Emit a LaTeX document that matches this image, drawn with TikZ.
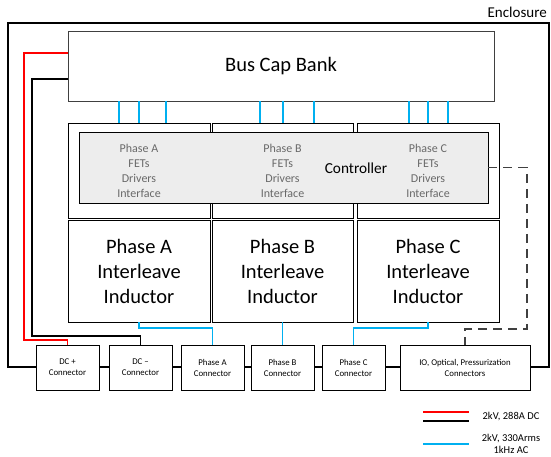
\documentclass[tikz,border=0pt]{standalone}
\usepackage{fontspec}
\setmainfont{Carlito}
\usetikzlibrary{positioning}

\definecolor{acblue}{RGB}{0,176,240}
\definecolor{txtgray}{RGB}{105,105,105}
\definecolor{fetfill}{RGB}{237,237,237}

\tikzset{
  box/.style={draw, line width=0.9pt, align=center, inner sep=0pt},
  bigtext/.style={font=\fontsize{20.5}{25}\selectfont},
  fettext/.style={align=center, text=txtgray, font=\fontsize{12}{15}\selectfont},
  conbox/.style={box, fill=white, minimum width=63pt, minimum height=45pt,
                 font=\fontsize{8.8}{11}\selectfont},
  dcline/.style={line width=1.8pt},
  acline/.style={acblue, line width=1.8pt},
}

\begin{document}
\begin{tikzpicture}[x=1pt,y=-1pt]
        \useasboundingbox (0,0) rectangle (551,457);
        % Enclosure
        \draw [line width=2.6pt] (8,23) rectangle (549,367);
        \node [above left, inner sep=2pt, font=\fontsize{15}{18}\selectfont] (encl) at (549,20) {Enclosure};
        % Bus caps
        \node [box, draw=black!75, minimum width=426pt, minimum height=70pt, bigtext] (buscap) at (281,66) {Bus Cap Bank};
        % Controller / FET boxes
        \node [box, minimum width=142pt, minimum height=95pt] (ctrlA) at (139,170.5) {};
        \node [box, minimum width=141pt, minimum height=95pt] (ctrlB) at (282.5,170.5) {};
        \node [box, minimum width=142pt, minimum height=95pt] (ctrlC) at (428,170.5) {};
        \node [box, fill=fetfill, minimum width=409pt, minimum height=71pt] (fets) at (283.5,167.5) {};
        \node [fettext] (fetA) at (139,170.5) {Phase A\\FETs\\Drivers\\Interface};
        \node [fettext] (fetB) at (282.5,170.5) {Phase B\\FETs\\Drivers\\Interface};
        \node [fettext] (fetC) at (428,170.5) {Phase C\\FETs\\Drivers\\Interface};
        \node [font=\fontsize{15.3}{18}\selectfont] (ctrl) at (356,168) {Controller};
        % Inductors
        \node [box, minimum width=142pt, minimum height=102pt, bigtext] (indA) at (139,271) {Phase A\\Interleave\\Inductor};
        \node [box, minimum width=141pt, minimum height=102pt, bigtext] (indB) at (282.5,271) {Phase B\\Interleave\\Inductor};
        \node [box, minimum width=142pt, minimum height=102pt, bigtext] (indC) at (428,271) {Phase C\\Interleave\\Inductor};
        % Connectors
        \node [conbox] (dcp) at (67.5,367.5) {DC +\\Connector};
        \node [conbox] (dcm) at (140.5,367.5) {DC --\\Connector};
        \node [conbox] (conA) at (212.5,367.5) {Phase A\\Connector};
        \node [conbox] (conB) at (282.5,367.5) {Phase B\\Connector};
        \node [conbox] (conC) at (353.5,367.5) {Phase C\\Connector};
        \node [conbox, minimum width=130pt] (io) at (465,367.5) {IO, Optical, Pressurization\\Connectors};
        % DC bus
        \coordinate (r1) at (24,53);
        \coordinate (r2) at (24,340);
        \coordinate (k1) at (32,79);
        \coordinate (k2) at (32,336);
        \draw [dcline, red] (buscap.west |- r1) -- (r1) -- (r2) -| (dcp.north);
        \draw [dcline] (buscap.west |- k1) -- (k1) -- (k2) -| (dcm.north);
        % AC links
        \foreach \x in {119,139,166,260,283,314,409,428,448}
                \draw [acline] (\x,0 |- buscap.south) -- (\x,0 |- ctrlA.north);
        \coordinate (a1) at (139,328);
        \coordinate (c1) at (428,328);
        \draw [acline] (indA.south) -- (a1) -| (conA.north);
        \draw [acline] (indB.south) -- (conB.north);
        \draw [acline] (indC.south) -- (c1) -| (conC.north);
        % Signals
        \coordinate (d1) at (527,167.5);
        \coordinate (d2) at (527,329);
        \draw [black!75, line width=1.3pt, dash pattern=on 9pt off 6pt] (fets.east) -- (d1) -- (d2) -| (io.north);
        % Legend
        \coordinate (l1) at (423,412);
        \coordinate (l2) at (423,421);
        \coordinate (l3) at (423,444);
        \draw [red, line width=2.6pt] (l1) -- ++(46,0);
        \draw [line width=2.6pt] (l2) -- ++(46,0);
        \draw [acblue, line width=2.6pt] (l3) -- ++(46,0);
        \node [font=\fontsize{10.5}{12}\selectfont] (leg1) at (511,417) {2kV, 288A DC};
        \node [align=center, font=\fontsize{10.5}{12}\selectfont] (leg2) at (511,444) {2kV, 330Arms\\1kHz AC};
\end{tikzpicture}
\end{document}
